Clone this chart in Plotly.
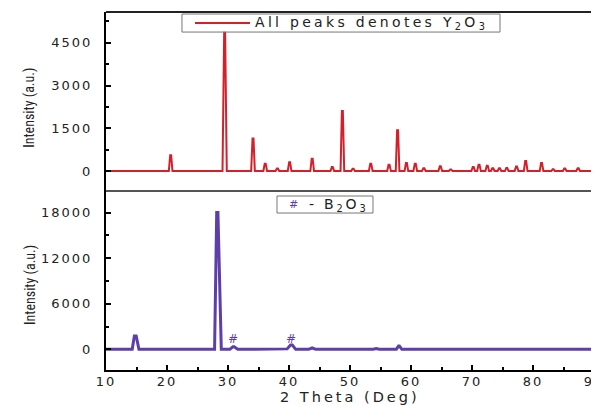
import plotly.graph_objects as go
from plotly.subplots import make_subplots

# ---- data ----
two_theta_y2o3 = [
    10.0, 20.3, 20.52, 20.68, 20.9,
    29.1, 29.37, 29.53, 29.8,
    33.8, 34.02, 34.18, 34.4,
    35.8, 36.02, 36.18, 36.4,
    37.8, 38.02, 38.18, 38.4,
    39.8, 40.02, 40.18, 40.4,
    43.5, 43.72, 43.88, 44.1,
    46.8, 47.02, 47.18, 47.4,
    48.45, 48.67, 48.83, 49.05,
    50.2, 50.42, 50.58, 50.8,
    53.1, 53.32, 53.48, 53.7,
    56.1, 56.32, 56.48, 56.7,
    57.5, 57.72, 57.88, 58.1,
    58.95, 59.17, 59.33, 59.55,
    60.4, 60.62, 60.78, 61.0,
    61.8, 62.02, 62.18, 62.4,
    64.5, 64.72, 64.88, 65.1,
    66.2, 66.42, 66.58, 66.8,
    69.9, 70.12, 70.28, 70.5,
    70.85, 71.07, 71.23, 71.45,
    72.2, 72.42, 72.58, 72.8,
    73.1, 73.32, 73.48, 73.7,
    74.2, 74.42, 74.58, 74.8,
    75.4, 75.62, 75.78, 76.0,
    77.0, 77.22, 77.38, 77.6,
    78.5, 78.72, 78.88, 79.1,
    81.1, 81.32, 81.48, 81.7,
    83.0, 83.22, 83.38, 83.6,
    84.9, 85.12, 85.28, 85.5,
    87.1, 87.32, 87.48, 87.7,
    89.6, 90.0,
]
intensity_y2o3 = [
    0, 0, 550, 550, 0,
    0, 4850, 4850, 0,
    0, 1140, 1140, 0,
    0, 260, 260, 0,
    0, 90, 90, 0,
    0, 305, 305, 0,
    0, 435, 435, 0,
    0, 140, 140, 0,
    0, 2110, 2110, 0,
    0, 80, 80, 0,
    0, 260, 260, 0,
    0, 225, 225, 0,
    0, 1430, 1430, 0,
    0, 280, 280, 0,
    0, 260, 260, 0,
    0, 100, 100, 0,
    0, 165, 165, 0,
    0, 50, 50, 0,
    0, 140, 140, 0,
    0, 225, 225, 0,
    0, 190, 190, 0,
    0, 100, 100, 0,
    0, 100, 100, 0,
    0, 110, 110, 0,
    0, 160, 160, 0,
    0, 355, 355, 0,
    0, 285, 285, 0,
    0, 60, 60, 0,
    0, 90, 90, 0,
    0, 100, 100, 0,
    0, 70,
]

two_theta_b2o3 = [
    10.0, 14.3, 14.65, 14.95, 15.4,
    27.8, 28.15, 28.35, 28.9,
    30.3, 30.8, 31.0, 31.6,
    34.5, 35.2, 35.9,
    38.8, 39.3, 39.7, 40.25, 40.55, 41.1,
    43.2, 43.8, 44.4,
    53.8, 54.3, 54.8,
    57.6, 57.95, 58.1, 58.5,
    66.6, 67.0, 67.4,
    82.1, 82.5, 82.9,
    90.0,
]
intensity_b2o3 = [
    0, 0, 1750, 1750, 0,
    0, 18000, 18000, 0,
    0, 340, 340, 0,
    0, 80, 0,
    0, 80, 60, 560, 560, 0,
    0, 180, 0,
    0, 100, 0,
    0, 430, 430, 0,
    0, 40, 0,
    0, 50, 0,
    0,
]

b2o3_marks_x = [30.9, 40.4]
b2o3_marks_y = [1350, 1350]

x_ticks = [10, 20, 30, 40, 50, 60, 70, 80, 90]
y1_ticks = [0, 1500, 3000, 4500]
y2_ticks = [0, 6000, 12000, 18000]

RED = "#d4202a"
PURPLE = "#5e3fa8"
TICKFONT = dict(family="DejaVu Sans", size=13, color="#222222")


def spaced(s, sp):
    return f"<span style='letter-spacing:{sp}px'>{s}</span>"


fig = make_subplots(rows=2, cols=1, shared_xaxes=True, vertical_spacing=0)

fig.add_trace(go.Scatter(x=two_theta_y2o3, y=intensity_y2o3, mode="lines",
                         line=dict(color=RED, width=2), showlegend=False),
              row=1, col=1)
fig.add_trace(go.Scatter(x=two_theta_b2o3, y=intensity_b2o3, mode="lines",
                         line=dict(color=PURPLE, width=3), showlegend=False),
              row=2, col=1)

fig.update_xaxes(range=[10, 90], showgrid=False, zeroline=False, automargin=False)
fig.update_xaxes(row=1, col=1, showticklabels=False, ticks="", showline=False)
fig.update_xaxes(row=2, col=1, showline=True, linecolor="black", linewidth=2,
                 ticks="inside", ticklen=5, tickwidth=1.5, tickcolor="black",
                 tickvals=x_ticks, ticktext=[spaced(str(v), 2) for v in x_ticks],
                 tickfont=TICKFONT, ticklabeloverflow="allow", ticklabelstandoff=-2,
                 minor=dict(dtick=5, tick0=0, ticks="inside", ticklen=3,
                            tickwidth=1.5, tickcolor="black"))

fig.update_yaxes(showgrid=False, zeroline=False, showline=True, linecolor="black",
                 linewidth=2, ticks="inside", ticklen=5, tickwidth=1.5,
                 tickcolor="black", tickfont=TICKFONT, ticklabelstandoff=9,
                 automargin=False)
fig.update_yaxes(row=1, col=1, range=[-700, 5580], tickvals=y1_ticks,
                 ticktext=[spaced(str(v), 2) for v in y1_ticks],
                 minor=dict(dtick=750, tick0=0, ticks="inside", ticklen=3,
                            tickwidth=1.5, tickcolor="black"))
fig.update_yaxes(row=2, col=1, range=[-2720, 20840], tickvals=y2_ticks,
                 ticktext=[spaced(str(v), 2) for v in y2_ticks],
                 minor=dict(dtick=3000, tick0=0, ticks="inside", ticklen=3,
                            tickwidth=1.5, tickcolor="black"))

ytitle_font = dict(family="Liberation Sans Narrow, Arial Narrow, Roboto Condensed, sans-serif",
                   size=14, color="#222222")
annotations = [
    dict(text="Intensity (a.u.)", xref="paper", yref="paper", x=-0.156, y=0.732,
         xanchor="center", yanchor="middle",
         textangle=-90, showarrow=False, font=ytitle_font),
    dict(text="Intensity (a.u.)", xref="paper", yref="paper", x=-0.156, y=0.237,
         xanchor="center", yanchor="middle",
         textangle=-90, showarrow=False, font=ytitle_font),
    dict(text=spaced("2 Theta (Deg)", 3.0), xref="paper", yref="paper",
         x=0.5, y=-0.0754, xanchor="center", yanchor="middle", showarrow=False,
         font=dict(family="DejaVu Sans", size=14.5, color="#222222")),
    dict(text=spaced("All peaks denotes Y<sub>2</sub>O<sub>3</sub>", 3.3),
         xref="paper", yref="paper", x=0.3012, y=0.9693, xanchor="left",
         yanchor="middle", showarrow=False,
         font=dict(family="DejaVu Sans", size=14, color="#222222")),
    dict(text=f"<span style='color:{PURPLE}'><i>#</i></span>",
         xref="paper", yref="paper", x=0.3832, y=0.462, xanchor="center",
         yanchor="middle", showarrow=False,
         font=dict(family="DejaVu Sans", size=11, color=PURPLE)),
    dict(text=spaced("- B<sub>2</sub>O<sub>3</sub>", 2.8),
         xref="paper", yref="paper", x=0.4109, y=0.462, xanchor="left",
         yanchor="middle", showarrow=False,
         font=dict(family="DejaVu Sans", size=14, color="#222222")),
]
for mx, my in zip(b2o3_marks_x, b2o3_marks_y):
    annotations.append(dict(text="<i>#</i>", x=mx, y=my, xref="x2", yref="y2",
                            showarrow=False,
                            font=dict(family="DejaVu Sans", size=12, color=PURPLE)))

shapes = [
    dict(type="line", xref="paper", yref="paper", x0=0, x1=1, y0=1, y1=1,
         line=dict(color="#222222", width=2)),
    dict(type="line", xref="paper", yref="paper", x0=0, x1=1, y0=0.5, y1=0.5,
         line=dict(color="#555555", width=2)),
    dict(type="line", xref="paper", yref="paper", x0=1, x1=1, y0=0, y1=1,
         line=dict(color="black", width=3)),
    dict(type="rect", xref="paper", yref="paper", x0=0.1557, x1=0.8074,
         y0=0.944, y1=0.9944, line=dict(color="#777777", width=1)),
    dict(type="line", xref="paper", yref="paper", x0=0.1824, x1=0.2951,
         y0=0.9693, y1=0.9693, line=dict(color=RED, width=2)),
    dict(type="rect", xref="paper", yref="paper", x0=0.3504, x1=0.5471,
         y0=0.4385, y1=0.486, line=dict(color="#777777", width=1)),
]

# The page body adds an 8px offset, so the figure is sized to fit the window.
fig.update_layout(
    width=591, height=397,
    margin=dict(l=98, r=5, t=4, b=35, autoexpand=False),
    paper_bgcolor="white", plot_bgcolor="white",
    annotations=annotations, shapes=shapes,
    showlegend=False,
)

fig.write_html("out.html")
